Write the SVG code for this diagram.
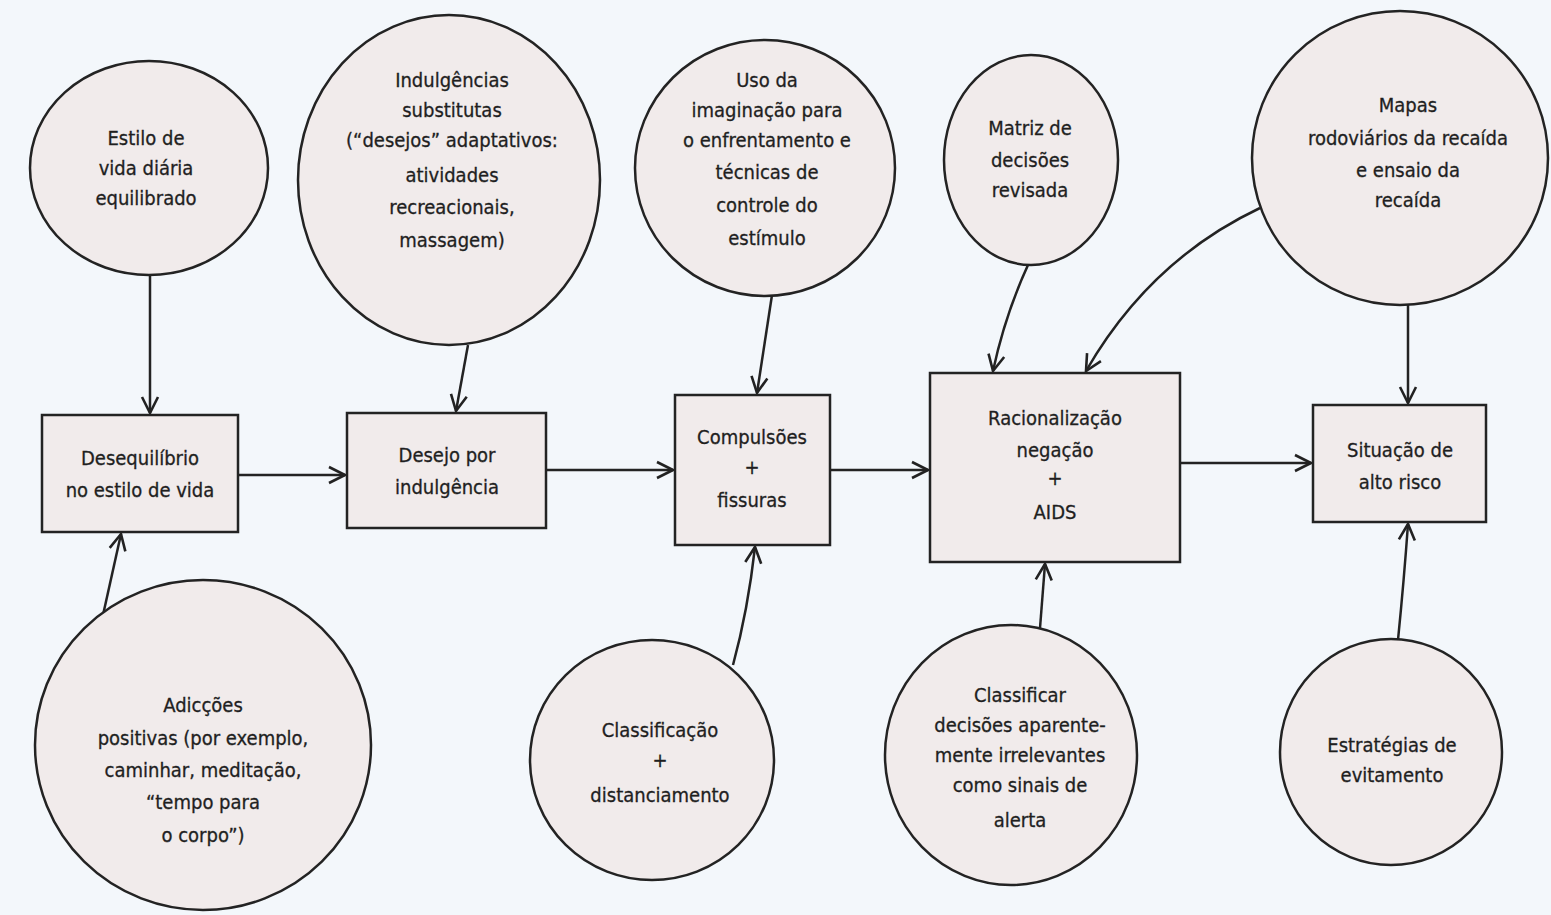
<svg xmlns="http://www.w3.org/2000/svg" width="1551" height="915" viewBox="0 0 1551 915">
<defs>
<marker id="ah" viewBox="-18 -10 20 20" markerWidth="20" markerHeight="20" refX="0" refY="0" orient="auto" markerUnits="userSpaceOnUse">
<path d="M-16,-8 L0,0 L-16,8" fill="none" stroke="#222" stroke-width="2.6" stroke-linejoin="miter"/>
</marker>
</defs>
<style>
.bg{fill:#f3f7fb}
.n{fill:#f1ebeb;stroke:#232323;stroke-width:2.5}
.t{font-family:"Liberation Sans Narrow","DejaVu Sans Condensed","Liberation Sans",sans-serif;font-size:20px;fill:#1f1f1f;stroke:#1f1f1f;stroke-width:0.3;text-anchor:middle}
.c{fill:none;stroke:#232323;stroke-width:2.5;marker-end:url(#ah)}
</style>
<rect class="bg" x="0" y="0" width="1551" height="915"/>
<g id="connectors">
<path class="c" d="M150,275 L150,413"/>
<path class="c" d="M468,345 L456,411"/>
<path class="c" d="M772,295 L757,393"/>
<path class="c" d="M1028,265 Q1005,315 993,371"/>
<path class="c" d="M1260,208 Q1150,260 1086,371"/>
<path class="c" d="M1408,305 L1408,403"/>
<path class="c" d="M238,475 L345,475"/>
<path class="c" d="M546,470 L673,470"/>
<path class="c" d="M830,470 L928,470"/>
<path class="c" d="M1180,463 L1311,463"/>
<path class="c" d="M103,615 L121,534"/>
<path class="c" d="M733,665 Q748,610 755,547"/>
<path class="c" d="M1040,628 L1045,564"/>
<path class="c" d="M1398,640 Q1404,580 1408,524"/>
</g>
<g id="c1">
<ellipse class="n" cx="149" cy="168" rx="119" ry="107"/>
<text class="t" x="146" y="145">Estilo de</text>
<text class="t" x="146" y="175">vida diária</text>
<text class="t" x="146" y="205">equilibrado</text>
</g>
<g id="c2">
<ellipse class="n" cx="449" cy="180" rx="151" ry="165"/>
<text class="t" x="452" y="87">Indulgências</text>
<text class="t" x="452" y="117">substitutas</text>
<text class="t" x="452" y="147">(“desejos” adaptativos:</text>
<text class="t" x="452" y="182">atividades</text>
<text class="t" x="452" y="214">recreacionais,</text>
<text class="t" x="452" y="247">massagem)</text>
</g>
<g id="c3">
<ellipse class="n" cx="765" cy="168" rx="130" ry="128"/>
<text class="t" x="767" y="87">Uso da</text>
<text class="t" x="767" y="117">imaginação para</text>
<text class="t" x="767" y="147">o enfrentamento e</text>
<text class="t" x="767" y="179">técnicas de</text>
<text class="t" x="767" y="212">controle do</text>
<text class="t" x="767" y="245">estímulo</text>
</g>
<g id="c4">
<ellipse class="n" cx="1031" cy="160" rx="87" ry="105"/>
<text class="t" x="1030" y="135">Matriz de</text>
<text class="t" x="1030" y="167">decisões</text>
<text class="t" x="1030" y="197">revisada</text>
</g>
<g id="c5">
<ellipse class="n" cx="1400" cy="158" rx="148" ry="147"/>
<text class="t" x="1408" y="112">Mapas</text>
<text class="t" x="1408" y="145">rodoviários da recaída</text>
<text class="t" x="1408" y="177">e ensaio da</text>
<text class="t" x="1408" y="207">recaída</text>
</g>
<g id="b1">
<rect class="n" x="42" y="415" width="196" height="117"/>
<text class="t" x="140" y="465">Desequilíbrio</text>
<text class="t" x="140" y="497">no estilo de vida</text>
</g>
<g id="b2">
<rect class="n" x="347" y="413" width="199" height="115"/>
<text class="t" x="447" y="462">Desejo por</text>
<text class="t" x="447" y="494">indulgência</text>
</g>
<g id="b3">
<rect class="n" x="675" y="395" width="155" height="150"/>
<text class="t" x="752" y="444">Compulsões</text>
<text class="t" x="752" y="474">+</text>
<text class="t" x="752" y="507">fissuras</text>
</g>
<g id="b4">
<rect class="n" x="930" y="373" width="250" height="189"/>
<text class="t" x="1055" y="425">Racionalização</text>
<text class="t" x="1055" y="457">negação</text>
<text class="t" x="1055" y="485">+</text>
<text class="t" x="1055" y="519">AIDS</text>
</g>
<g id="b5">
<rect class="n" x="1313" y="405" width="173" height="117"/>
<text class="t" x="1400" y="457">Situação de</text>
<text class="t" x="1400" y="489">alto risco</text>
</g>
<g id="c6">
<ellipse class="n" cx="203" cy="745" rx="168" ry="165"/>
<text class="t" x="203" y="712">Adicções</text>
<text class="t" x="203" y="745">positivas (por exemplo,</text>
<text class="t" x="203" y="777">caminhar, meditação,</text>
<text class="t" x="203" y="809">“tempo para</text>
<text class="t" x="203" y="842">o corpo”)</text>
</g>
<g id="c7">
<ellipse class="n" cx="652" cy="760" rx="122" ry="120"/>
<text class="t" x="660" y="737">Classificação</text>
<text class="t" x="660" y="767">+</text>
<text class="t" x="660" y="802">distanciamento</text>
</g>
<g id="c8">
<ellipse class="n" cx="1011" cy="755" rx="126" ry="130"/>
<text class="t" x="1020" y="702">Classificar</text>
<text class="t" x="1020" y="732">decisões aparente-</text>
<text class="t" x="1020" y="762">mente irrelevantes</text>
<text class="t" x="1020" y="792">como sinais de</text>
<text class="t" x="1020" y="827">alerta</text>
</g>
<g id="c9">
<ellipse class="n" cx="1391" cy="752" rx="111" ry="113"/>
<text class="t" x="1392" y="752">Estratégias de</text>
<text class="t" x="1392" y="782">evitamento</text>
</g>
</svg>
